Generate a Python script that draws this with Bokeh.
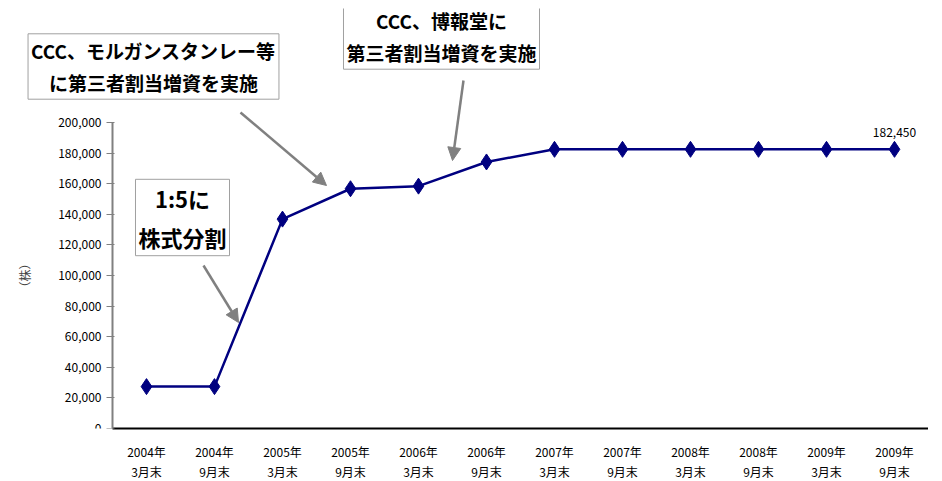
from bokeh.plotting import figure
from bokeh.models import Range1d, Label, Arrow, NormalHead, NumeralTickFormatter, FixedTicker, LinearAxis
from bokeh.core.properties import value
from bokeh.embed import file_html
from bokeh.resources import INLINE

periods = ["2004年\n3月末", "2004年\n9月末", "2005年\n3月末", "2005年\n9月末",
           "2006年\n3月末", "2006年\n9月末", "2007年\n3月末", "2007年\n9月末",
           "2008年\n3月末", "2008年\n9月末", "2009年\n3月末", "2009年\n9月末"]
shares = [27370, 27370, 136850, 156700, 158400, 174200, 182450, 182450,
          182450, 182450, 182450, 182450]
y_ticks = list(range(0, 200001, 20000))
xs = list(range(len(periods)))

FONT = "Noto Sans CJK JP"

p = figure(x_range=Range1d(-2.147, 11.5), y_range=Range1d(0, 274500), y_axis_location=None,
           frame_width=928, frame_height=420, output_backend="svg", toolbar_location=None,
           min_border_left=0, min_border_right=0, min_border_top=8, min_border_bottom=5)
p.outline_line_color = None
p.xgrid.grid_line_color = None
p.ygrid.grid_line_color = None

p.line(xs, shares, line_color="#000080", line_width=2.5)
p.scatter(xs, shares, marker="diamond", size=16, color="#000080")
p.text([xs[-1]], [shares[-1]], text=["{:,}".format(shares[-1])], y_offset=-12,
       text_align="center", text_baseline="bottom", text_font=value(FONT), text_font_size="12px")

yax = LinearAxis(fixed_location=-0.5, bounds=(0, 200000), ticker=FixedTicker(ticks=y_ticks),
                 formatter=NumeralTickFormatter(format="0,0"))
yax.axis_line_color = "#808080"
yax.axis_line_width = 2
yax.major_tick_line_color = "#808080"
yax.minor_tick_line_color = None
yax.major_label_text_font = FONT
yax.major_label_text_font_size = "12px"
yax.major_label_text_color = "black"
yax.axis_label = "（株）"
yax.axis_label_text_font = FONT
yax.axis_label_text_font_size = "12px"
yax.axis_label_text_font_style = "normal"
yax.axis_label_standoff = 22
p.add_layout(yax, "left")

p.xaxis.ticker = FixedTicker(ticks=xs)
p.xaxis.major_label_overrides = {i: s for i, s in zip(xs, periods)}
p.xaxis.bounds = (-0.5, 11.5)
p.xaxis.axis_line_color = "black"
p.xaxis.axis_line_width = 2
p.xaxis.major_tick_line_color = None
p.xaxis.minor_tick_line_color = None
p.xaxis.major_label_text_font = FONT
p.xaxis.major_label_text_font_size = "12px"
p.xaxis.major_label_text_color = "black"
p.xaxis.major_label_standoff = 8

notes = [("1:5に\n株式分割", 182, 211, 22), ("CCC、モルガンスタンレー等\nに第三者割当増資を実施", 153, 362, 19),
         ("CCC、博報堂に\n第三者割当増資を実施", 441, 392, 19)]
for txt, x, y, fs in notes:
    p.add_layout(Label(x=x, y=y, x_units="screen", y_units="screen", text=txt,
                       text_align="center", text_baseline="middle", text_font=FONT,
                       text_font_size=f"{fs}px", text_font_style="bold", text_line_height=1.2,
                       text_color="black",
                       border_line_color="#a0a0a0", background_fill_color="white", padding=3))

arrows = [(203, 163, 238, 106), (240, 316, 326, 243), (463, 348, 452, 268)]
for x0, y0, x1, y1 in arrows:
    p.add_layout(Arrow(x_start=x0, y_start=y0, x_end=x1, y_end=y1,
                       start_units="screen", end_units="screen",
                       line_color="#808080", line_width=2.5,
                       end=NormalHead(size=13, fill_color="#808080", line_color="#808080")))

open("out.html", "w").write(file_html(p, INLINE))
